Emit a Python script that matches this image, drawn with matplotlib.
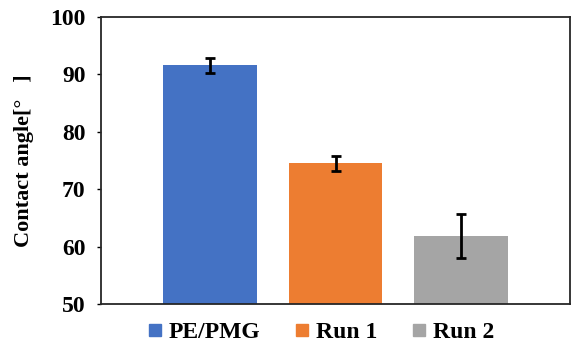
import numpy as np
import matplotlib
matplotlib.use('Agg')
import matplotlib.pyplot as plt
from matplotlib.lines import Line2D

plt.rcParams['font.family'] = 'Liberation Serif'
plt.rcParams['font.weight'] = 'bold'

labels = ['PE/PMG', 'Run 1', 'Run 2']
angles = [91.6, 74.5, 61.9]
errors = [1.3, 1.25, 3.8]
colors = ['#4472C4', '#ED7D31', '#A5A5A5']

fig = plt.figure(figsize=(5.72, 3.44), dpi=100)
ax = fig.add_axes([101/572, 40/344, 469/572, 287/344])

x = np.arange(len(labels))
ax.bar(x, angles, width=0.745, color=colors, zorder=2)
ax.errorbar(x, angles, yerr=errors, fmt='none', ecolor='black',
            elinewidth=2, capsize=3.5, capthick=2, zorder=3)

ax.set_xlim(-0.867, 2.867)
ax.set_ylim(50, 100)
ax.set_yticks([50, 60, 70, 80, 90, 100])
ax.set_xticks([])
ax.tick_params(axis='y', direction='out', length=3, width=1, labelsize=17, pad=8)
for lbl in ax.get_yticklabels():
    lbl.set_fontweight('bold')
for sp in ax.spines.values():
    sp.set_linewidth(1.3)
    sp.set_color('#262626')

ax.set_ylabel('Contact angle[°   ]', fontsize=16, fontweight='bold', labelpad=12)

handles = [Line2D([], [], ls='none', marker='s', markersize=9, color=c) for c in colors]
fig.legend(handles, labels, loc='center', bbox_to_anchor=(321/572, 1 - 332/344),
           ncol=3, frameon=False, prop={'size': 17, 'weight': 'bold'},
           handlelength=0.6, handletextpad=0.3, columnspacing=1.45)

fig.savefig('out.png', dpi=100)
